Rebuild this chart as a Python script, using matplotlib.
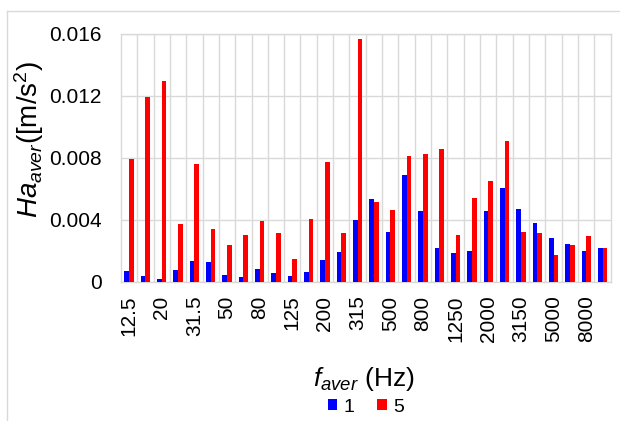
import matplotlib
matplotlib.use("Agg")
import matplotlib.pyplot as plt
import numpy as np
from matplotlib.lines import Line2D

plt.rcParams['font.family'] = ['Liberation Sans', 'DejaVu Sans']
plt.rcParams['mathtext.fontset'] = 'custom'
plt.rcParams['mathtext.rm'] = 'Liberation Sans'
plt.rcParams['mathtext.it'] = 'Liberation Sans:italic'

bands = ["12.5", "16", "20", "25", "31.5", "40", "50", "63", "80", "100",
         "125", "160", "200", "250", "315", "400", "500", "630", "800", "1000",
         "1250", "1600", "2000", "2500", "3150", "4000", "5000", "6300", "8000", "10000"]
series_1 = [0.00071, 0.00037, 0.00015, 0.00075, 0.00135, 0.00127, 0.00041, 0.00032, 0.00082, 0.00054,
            0.00039, 0.00063, 0.00142, 0.00190, 0.00396, 0.00532, 0.00323, 0.00686, 0.00454, 0.00215,
            0.00183, 0.00200, 0.00458, 0.00603, 0.00469, 0.00377, 0.00284, 0.00243, 0.00198, 0.00217]
series_5 = [0.00794, 0.01192, 0.01297, 0.00374, 0.00760, 0.00338, 0.00235, 0.00299, 0.00392, 0.00316,
            0.00144, 0.00404, 0.00772, 0.00316, 0.01566, 0.00516, 0.00463, 0.00811, 0.00822, 0.00856,
            0.00299, 0.00542, 0.00652, 0.00908, 0.00321, 0.00312, 0.00174, 0.00239, 0.00295, 0.00217]
yticks = [0, 0.004, 0.008, 0.012, 0.016]
ytick_labels = ["0", "0.004", "0.008", "0.012", "0.016"]

fig = plt.figure(figsize=(6.2, 4.21), dpi=100)
ax = fig.add_axes([0.195, 0.331, 0.79, 0.589])

x = np.arange(len(bands))
w = 0.285
ax.bar(x - w/2, series_1, width=w, color='#0000ff', label='1', zorder=3)
ax.bar(x + w/2, series_5, width=w, color='#ff0000', label='5', zorder=3)

ax.set_xlim(-0.5, len(bands) - 0.5)
ax.set_ylim(0, 0.016)
ax.set_yticks(yticks)
ax.set_yticklabels(ytick_labels, fontsize=15)
ax.set_xticks(x[::2])
ax.set_xticklabels(bands[::2], rotation=90, fontsize=15)
ax.set_xticks(x[:-1] + 0.5, minor=True)
ax.tick_params(axis='both', which='both', length=0)
ax.tick_params(axis='x', pad=10)
ax.tick_params(axis='y', pad=14)
ax.grid(axis='y', which='major', color='#d9d9d9', linewidth=1, zorder=0)
ax.grid(axis='x', which='minor', color='#d9d9d9', linewidth=1, zorder=0)
for s in ax.spines.values():
    s.set_color('#d9d9d9')
    s.set_linewidth(1)

ax.set_ylabel(r'$\mathit{Ha}_{\mathit{aver}}$([m/s$^{2}$)', fontsize=20)
ax.yaxis.set_label_coords(-0.152, 0.573)
ax.set_xlabel(r'$\mathit{f}_{\mathit{aver}}$ (Hz)', fontsize=19)
ax.xaxis.set_label_coords(0.496, -0.335)

leg = fig.legend(loc='center', bbox_to_anchor=(0.59, 0.033), ncol=2, frameon=False,
                 fontsize=14, handlelength=0.5, handleheight=0.5, handletextpad=0.3,
                 columnspacing=1.2)

fig.add_artist(Line2D([7/620, 7/620], [0, 1 - 11/421], transform=fig.transFigure,
                      color='#d9d9d9', linewidth=1))
fig.add_artist(Line2D([7/620, 1], [1 - 11/421, 1 - 11/421], transform=fig.transFigure,
                      color='#d9d9d9', linewidth=1))

fig.savefig('out.png', dpi=100)
